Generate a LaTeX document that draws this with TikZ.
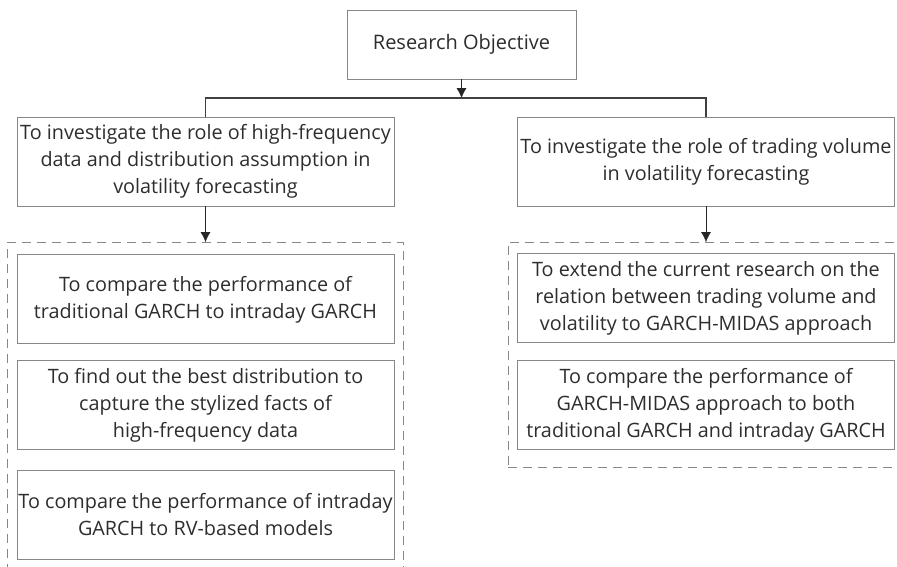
\documentclass[tikz,border=0pt]{standalone}
\usepackage{fontspec}
\setmainfont{Open Sans}
\usepackage{tikz}
\definecolor{boxgray}{RGB}{135,135,135}
\definecolor{txtgray}{RGB}{45,45,45}
\tikzstyle{goal}=[rectangle,draw=boxgray,thick,text=txtgray,align=center,
minimum width=229pt,minimum height=69pt,font=\fontsize{20}{27}\selectfont]
\tikzstyle{objective}=[rectangle,draw=boxgray,thick,text=txtgray,align=center,
minimum width=377pt,minimum height=89pt,inner sep=1pt,font=\fontsize{19.8}{27}\selectfont]
\tikzstyle{task}=[rectangle,draw=boxgray,thick,text=txtgray,align=center,
minimum width=377pt,minimum height=89pt,inner sep=1pt,font=\fontsize{19.8}{27}\selectfont]
\tikzstyle{groupbox}=[rectangle,draw=boxgray,thick,inner sep=0pt,dash pattern=on 9pt off 6pt]
\usetikzlibrary{arrows.meta,positioning,fit}

\begin{document}
\begin{tikzpicture}[>={Latex[length=10pt,width=10pt]},auto]
            \useasboundingbox (0pt,0pt) rectangle (897pt,-566pt);

            % TOP PART

            \node[goal] (ro) at (461.5pt,-44.5pt) {Research Objective};
            \node[objective] (obj1) at (205.5pt,-161.5pt) {To investigate the role of high-frequency\\data and distribution assumption in\\volatility forecasting};
            \node[objective] (obj2) at (706pt,-161.5pt) {To investigate the role of trading volume\\in volatility forecasting};

            \coordinate (split) at (461.5pt,-98pt);
            \path[->,black!85] (ro) edge node {} (split);
            \draw[black!75,line width=1.6pt] (obj1.north) |- (split) -| (obj2.north);

            % HIGH-FREQUENCY PART

            \node[task,below=48pt of obj1] (t1) {To compare the performance of\\traditional GARCH to intraday GARCH};
            \node[task,below=16pt of t1] (t2) {To find out the best distribution to\\capture the stylized facts of\\high-frequency data};
            \node[task,below=20pt of t2] (t3) {To compare the performance of intraday\\GARCH to RV-based models};
            \coordinate (g1nw) at ([xshift=-9pt,yshift=12pt]t1.north west);
            \coordinate (g1se) at ([xshift=9pt,yshift=-9pt]t3.south east);
            \node[groupbox,fit=(g1nw)(g1se)] (g1) {};

            \path[->,black!85] (obj1.south) edge node {} (obj1.south |- g1.north);

            % TRADING VOLUME PART

            \node[task,below=47pt of obj2] (t4) {To extend the current research on the\\relation between trading volume and\\volatility to GARCH-MIDAS approach};
            \node[task,below=17pt of t4] (t5) {To compare the performance of\\GARCH-MIDAS approach to both\\traditional GARCH and intraday GARCH};
            \coordinate (g2nw) at ([xshift=-9pt,yshift=11pt]t4.north west);
            \coordinate (g2se) at ([xshift=9pt,yshift=-17pt]t5.south east);
            \node[groupbox,fit=(g2nw)(g2se)] (g2) {};

            \path[->,black!85] (obj2.south) edge node {} (obj2.south |- g2.north);

\end{tikzpicture}
\end{document}
